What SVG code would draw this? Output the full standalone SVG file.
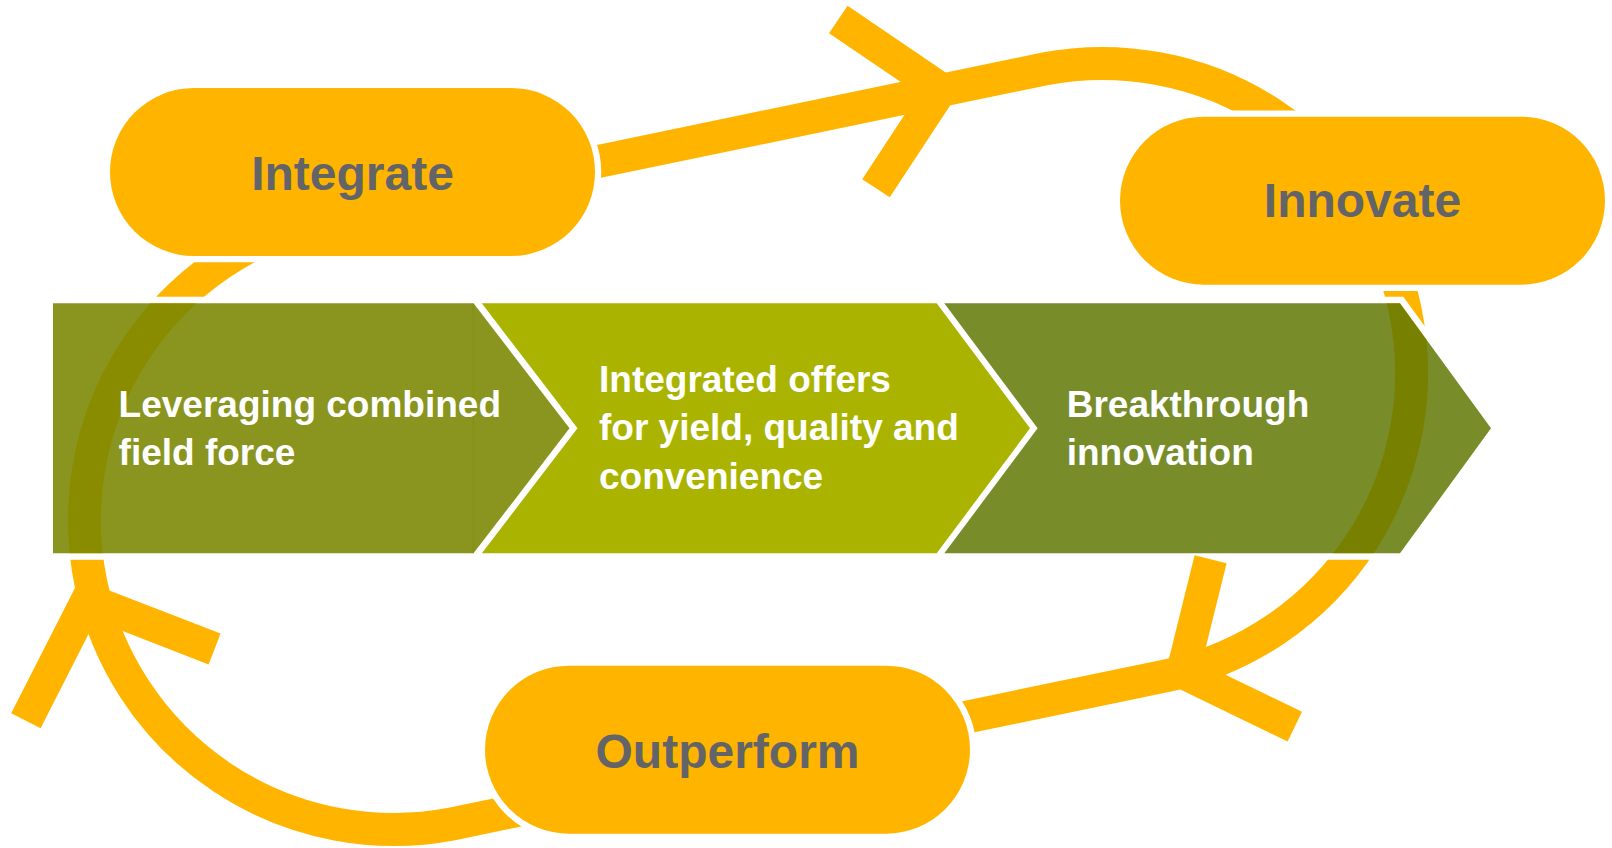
<svg xmlns="http://www.w3.org/2000/svg" width="1612" height="848" viewBox="0 0 1612 848">
  <defs>
    <style>
      .loop { fill: none; stroke: #FFB500; stroke-width: 33; }
      .barb { fill: none; stroke: #FFB500; stroke-width: 33; stroke-linejoin: miter; stroke-linecap: butt; stroke-miterlimit: 10; }
      .pill { fill: #FFB500; }
      .pill-label { font-family: "Liberation Sans", Arial, sans-serif; font-weight: bold; font-size: 48px; fill: #636468; text-anchor: middle; }
      .stage-label { font-family: "Liberation Sans", Arial, sans-serif; font-weight: bold; font-size: 37px; fill: #FFFFFF; }
    </style>
    <!-- white clearance around the pills and the outside of the stage bar -->
    <mask id="loop-gaps" maskUnits="userSpaceOnUse" x="0" y="0" width="1612" height="848">
      <rect x="0" y="0" width="1612" height="848" fill="#fff"/>
      <path d="M53 303.3H1400L1491 428.3L1400 553.3H53Z" fill="none" stroke="#000" stroke-width="13" stroke-linejoin="miter"/>
      <path d="M53 303.3H1400L1491 428.3L1400 553.3H53Z" fill="#fff"/>
      <rect x="110" y="88" width="485" height="168" rx="84" fill="#000" stroke="#000" stroke-width="12.5"/>
      <rect x="1120" y="116.7" width="485" height="168" rx="84" fill="#000" stroke="#000" stroke-width="12.5"/>
      <rect x="485" y="665.7" width="485" height="168" rx="84" fill="#000" stroke="#000" stroke-width="12.5"/>
    </mask>
  </defs>

  <rect x="0" y="0" width="1612" height="848" fill="#FFFFFF"/>

  <!-- cycle loop: two tangent lines joined by half circles -->
  <g id="connectors">
    <path class="loop" mask="url(#loop-gaps)" d="M326.1 218L1044.1 69A309.5 309.5 0 0 1 1169.9 675L451.9 824A309.5 309.5 0 0 1 326.1 218Z"/>
    <!-- Integrate to Innovate -->
    <polyline class="barb" points="838.3,19.5 941,89.3 876,188.2"/>
    <!-- Innovate to Outperform -->
    <polyline class="barb" points="1210.6,559.2 1182.6,672.3 1294.8,726.7"/>
    <!-- Outperform to Integrate -->
    <polyline class="barb" points="25.9,720.8 87.5,599.7 214.6,649"/>
  </g>

  <!-- stage bar -->
  <g id="stage-field-force">
    <path d="M53 303.3H473.5L569.5 428.3L473.5 553.3H53Z" fill="rgb(121,134,0)" fill-opacity="0.875"/>
    <line x1="473.3" y1="303.3" x2="473.3" y2="553.3" stroke="#7C880E" stroke-opacity="0.45" stroke-width="1"/>
    <text class="stage-label" x="118.6" y="416.7">Leveraging combined</text>
    <text class="stage-label" x="118.6" y="465">field force</text>
  </g>
  <g id="stage-integrated-offers">
    <path d="M481.8 303.3H936.7L1030 428.3L936.7 553.3H481.8L577.5 428.3Z" fill="#AAB400"/>
    <text class="stage-label" x="599" y="391.7">Integrated offers</text>
    <text class="stage-label" x="599" y="440.3">for yield, quality and</text>
    <text class="stage-label" x="599" y="489">convenience</text>
  </g>
  <g id="stage-breakthrough">
    <path d="M944.3 303.3H1400L1491 428.3L1400 553.3H944.3L1037.6 428.3Z" fill="rgb(93,117,0)" fill-opacity="0.835"/>
    <text class="stage-label" x="1066.7" y="416.7">Breakthrough</text>
    <text class="stage-label" x="1066.7" y="465">innovation</text>
  </g>

  <!-- cycle nodes -->
  <g id="node-integrate">
    <rect class="pill" x="110" y="88" width="485" height="168" rx="84"/>
    <text class="pill-label" x="352.5" y="190">Integrate</text>
  </g>
  <g id="node-innovate">
    <rect class="pill" x="1120" y="116.7" width="485" height="168" rx="84"/>
    <text class="pill-label" x="1362.5" y="216.7">Innovate</text>
  </g>
  <g id="node-outperform">
    <rect class="pill" x="485" y="665.7" width="485" height="168" rx="84"/>
    <text class="pill-label" x="727.5" y="768.3">Outperform</text>
  </g>
</svg>
